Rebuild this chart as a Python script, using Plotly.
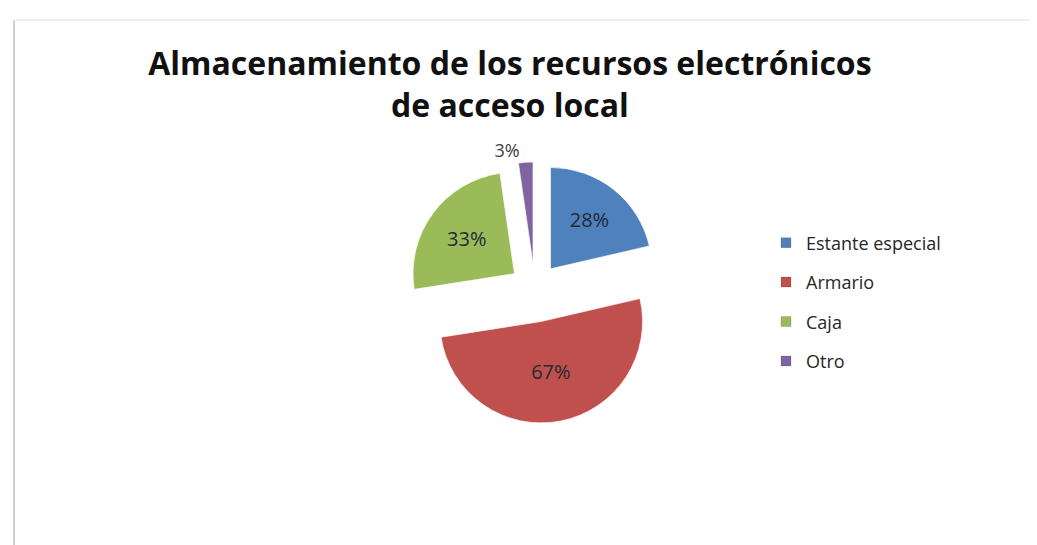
import plotly.graph_objects as go

categories = ["Estante especial", "Armario", "Caja", "Otro"]
values = [28, 67, 33, 3]
labels_text = ["28%", "67%", "33%", "3%"]
colors = ["#4F81BD", "#C0504D", "#9BBB59", "#8064A2"]
pulls = [0.25, 0.33, 0.25, 0.25]

W, H = 1037, 545
FONT = "'Open Sans', Lato, sans-serif"

fig = go.Figure()
fig.add_trace(go.Pie(
    labels=categories,
    values=values,
    text=labels_text,
    textinfo="text",
    textposition=["inside", "inside", "inside", "outside"],
    insidetextorientation="horizontal",
    sort=False,
    direction="clockwise",
    rotation=0,
    pull=pulls,
    marker=dict(colors=colors, line=dict(color="rgba(255,255,255,0.6)", width=1)),
    textfont=dict(family=FONT, size=20, color="#1f2a33"),
    outsidetextfont=dict(family=FONT, size=18, color="#404040"),
    domain=dict(x=[0.378, 0.638], y=[0.235, 0.735]),
    hoverinfo="label+text",
    showlegend=False,
))

# legend entries (one per category, same colours as the slices)
for i, (cat, col) in enumerate(zip(categories, colors)):
    fig.add_trace(go.Scatter(
        x=[None], y=[None], mode="markers", name=cat,
        marker=dict(symbol="square", size=10, color=col,
                    line=dict(color="rgba(0,0,0,0.25)", width=0.5)),
        legendgroup=f"g{i}", showlegend=True, hoverinfo="skip",
    ))

fig.update_layout(
    width=W, height=H,
    margin=dict(l=0, r=0, t=0, b=0),
    paper_bgcolor="white",
    plot_bgcolor="white",
    xaxis=dict(visible=False),
    yaxis=dict(visible=False),
    title=dict(
        text="<b>Almacenamiento de los recursos electrónicos<br>de acceso local</b>",
        x=0.484, xanchor="center",
        y=1 - 67 / H, yanchor="top",
        font=dict(family=FONT, size=32, color="#111111"),
    ),
    legend=dict(
        x=758 / W, xanchor="left",
        y=1 - 294 / H, yanchor="middle",
        font=dict(family=FONT, size=18, color="#262626"),
        bgcolor="rgba(0,0,0,0)",
        tracegroupgap=13,
        itemwidth=30,
    ),
    showlegend=True,
    shapes=[
        dict(type="line", xref="paper", yref="paper",
             x0=6 / W, x1=6 / W, y0=0, y1=1 - 12 / H,
             line=dict(color="#cfcfcf", width=2)),
        dict(type="line", xref="paper", yref="paper",
             x0=6 / W, x1=1, y0=1 - 12 / H, y1=1 - 12 / H,
             line=dict(color="#ececec", width=2)),
    ],
)

fig.write_html("out.html")
